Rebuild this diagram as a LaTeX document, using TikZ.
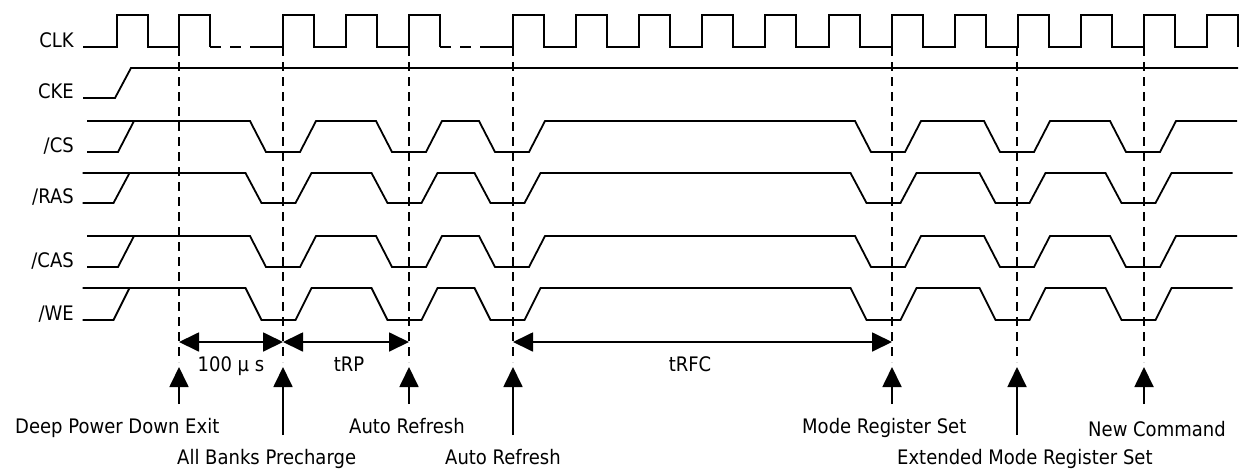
\documentclass[tikz,border=0pt]{standalone}
\usepackage{fontspec}
\setmainfont{DejaVu Sans}[FakeStretch=0.9]
\usetikzlibrary{arrows.meta}

\begin{document}
\begin{tikzpicture}[
        x=1pt, y=-1pt,
        every node/.style={font=\fontsize{20}{23}\selectfont, inner sep=0pt},
        siglabel/.style={anchor=base east},
        evlabel/.style={anchor=base west},
        dimlabel/.style={anchor=base},
        wave/.style={line width=1.8pt},
        gap/.style={line width=1.8pt, dash pattern=on 11pt off 9pt},
        guide/.style={line width=1.8pt, dash pattern=on 9pt off 6pt},
        arrow/.style={line width=1.8pt, -{Triangle[length=20pt,width=19pt]}},
        dimarrow/.style={line width=1.8pt, {Triangle[length=20pt,width=19pt]}-{Triangle[length=20pt,width=19pt]}}
    ]
    \useasboundingbox (0,0) rectangle (1249,474);

    % Signal names
    \node[siglabel] (clk) at (74,47) {CLK};
    \node[siglabel] (cke) at (74,98) {CKE};
    \node[siglabel] (cs) at (74,152) {/CS};
    \node[siglabel] (ras) at (74,203) {/RAS};
    \node[siglabel] (cas) at (74,267) {/CAS};
    \node[siglabel] (we) at (74,320) {/WE};

    % Clock
    \draw[wave] (83,47) \foreach \x in {117,179} { -| (\x,15) -| ({\x+31},47) };
    \draw[gap] (210,47) -- (250,47);
    \draw[wave] (250,47) \foreach \x in {283,346,409} { -| (\x,15) -| ({\x+31},47) };
    \draw[gap] (440,47) -- (480,47);
    \draw[wave] (480,47) \foreach \x in {513,576,639,702,765,829,892,955,1018,1081,1144,1207} { -| (\x,15) -| ({\x+31},47) };

    % Clock enable
    \draw[wave] (83,98) -- (115,98) -- (131,68) -- (1238,68);

    % Command lines
    \foreach \hi/\lo/\dx in {121/152/0, 173/203/-4.5, 236/267/0, 288/320/-4.5} {
        \draw[wave] ({87+\dx},\lo) -- ({118+\dx},\lo) -- ({134+\dx},\hi);
        \draw[wave] ({87+\dx},\hi)
            \foreach \c in {283,409,512,888,1017,1143} { -- ({\c-33+\dx},\hi) -- ({\c-17+\dx},\lo) -- ({\c+17+\dx},\lo) -- ({\c+33+\dx},\hi) }
            -- ({1237+\dx},\hi);
    }

    % Events
    \foreach \n/\x/\t in {dpd/179/404, abp/283/435, arf/409/404, arfb/513/435, mrs/892/404, emrs/1017/435, newcmd/1144/404} {
        \coordinate (\n-top) at (\x,47);
        \coordinate (\n-bot) at (\x,362);
        \coordinate (\n-tip) at (\x,367);
        \coordinate (\n-tail) at (\x,\t);
        \coordinate (\n-dim) at (\x,342);
        \draw[guide] (\n-top) -- (\n-bot);
        \draw[arrow] (\n-tail) -- (\n-tip);
    }

    % Timings
    \draw[dimarrow] (dpd-dim) -- (abp-dim);
    \draw[dimarrow] (abp-dim) -- (arf-dim);
    \draw[dimarrow] (arfb-dim) -- (mrs-dim);
    \node[dimlabel] (t100) at (231,371) {100 μ s};
    \node[dimlabel] (trp) at (349,371) {tRP};
    \node[dimlabel] (trfc) at (690,371) {tRFC};

    % Event names
    \node[evlabel] (dpdtxt) at (15,433) {Deep Power Down Exit};
    \node[evlabel] (abptxt) at (177,464) {All Banks Precharge};
    \node[evlabel] (arftxt) at (349,433) {Auto Refresh};
    \node[evlabel] (arfbtxt) at (445,464) {Auto Refresh};
    \node[evlabel] (mrstxt) at (802,433) {Mode Register Set};
    \node[evlabel] (emrstxt) at (897,464) {Extended Mode Register Set};
    \node[evlabel] (newcmdtxt) at (1088,436) {New Command};
\end{tikzpicture}
\end{document}
